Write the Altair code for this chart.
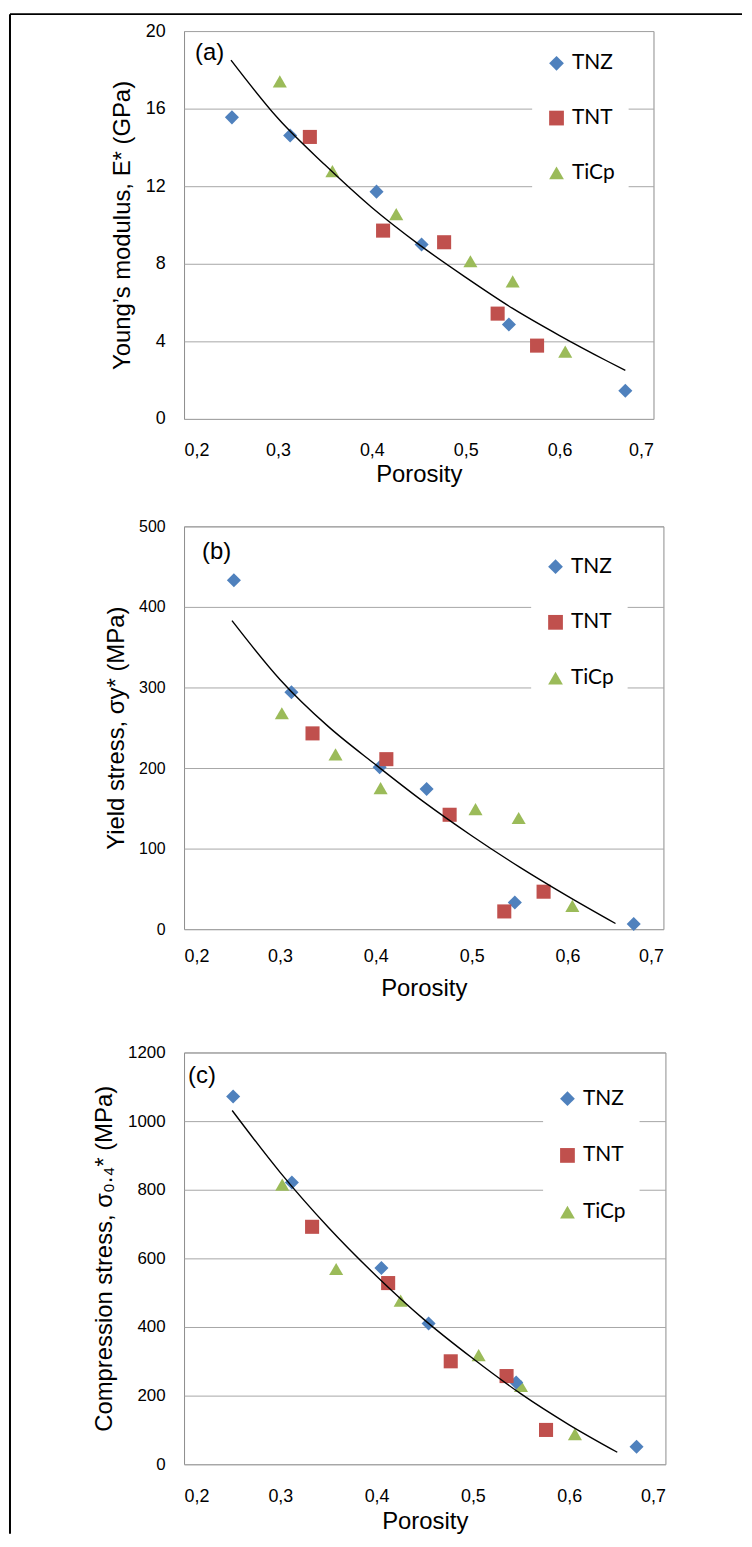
import altair as alt
import pandas as pd

series = ["TNZ", "TNT", "TiCp"]
colors = ["#4F81BD", "#C0504D", "#9BBB59"]
shapes = ["diamond", "square", "triangle-up"]
x_ticks = [0.2, 0.3, 0.4, 0.5, 0.6, 0.7]

# Panel (a) Young's modulus
a_tnz_x = [0.251, 0.313, 0.405, 0.453, 0.546, 0.670]
a_tnz_y = [15.55, 14.61, 11.72, 8.99, 4.87, 1.45]
a_tnt_x = [0.334, 0.412, 0.477, 0.534, 0.576]
a_tnt_y = [14.54, 9.71, 9.11, 5.43, 3.78]
a_ticp_x = [0.302, 0.358, 0.426, 0.505, 0.550, 0.606]
a_ticp_y = [17.4, 12.78, 10.56, 8.13, 7.09, 3.47]
a_fit_x = [0.25, 0.30, 0.35, 0.40, 0.45, 0.50, 0.55, 0.60, 0.65, 0.67]
a_fit_y = [18.5, 15.5, 13.1, 10.9, 9.0, 7.3, 5.7, 4.3, 3.0, 2.5]
a_y_ticks = [0, 4, 8, 12, 16, 20]

# Panel (b) Yield stress
b_tnz_x = [0.252, 0.312, 0.404, 0.453, 0.545, 0.669]
b_tnz_y = [433, 294, 201, 174, 33, 6.5]
b_tnt_x = [0.334, 0.411, 0.477, 0.534, 0.575]
b_tnt_y = [243, 211, 142, 22, 46.5]
b_ticp_x = [0.302, 0.358, 0.405, 0.504, 0.549, 0.605]
b_ticp_y = [268, 217, 175, 149, 138, 29]
b_fit_x = [0.25, 0.30, 0.35, 0.40, 0.45, 0.50, 0.55, 0.60, 0.65]
b_fit_y = [383, 310, 252, 204, 158, 116, 77, 41, 7]
b_y_ticks = [0, 100, 200, 300, 400, 500]

# Panel (c) Compression stress
c_tnz_x = [0.251, 0.312, 0.405, 0.454, 0.545, 0.670]
c_tnz_y = [1072, 821, 572, 410, 238, 51]
c_tnt_x = [0.333, 0.412, 0.477, 0.535, 0.576]
c_tnt_y = [692, 528, 300, 257, 100]
c_ticp_x = [0.302, 0.358, 0.425, 0.506, 0.550, 0.606]
c_ticp_y = [815, 569, 477, 318, 228, 88]
c_fit_x = [0.25, 0.30, 0.35, 0.40, 0.45, 0.50, 0.55, 0.60, 0.65]
c_fit_y = [1031, 850, 690, 548, 420, 308, 205, 115, 35]
c_y_ticks = [0, 200, 400, 600, 800, 1000, 1200]

FONT = "Liberation Sans"
LEG_FONT = "Lato"


def points_df(xs_list, ys_list):
    rows = []
    for name, xs, ys in zip(series, xs_list, ys_list):
        for x, y in zip(xs, ys):
            rows.append({"Porosity": x, "val": y, "Series": name})
    return pd.DataFrame(rows)


def panel(pts, fit_x, fit_y, y_ticks, ytitle, tag, width, height,
          legx, legy, rowpad, ylab_size, xlab_pad, xtitle_pad, title_x,
          tag_x, tag_y, border=False):
    xsc = alt.Scale(domain=[0.2, 0.7], nice=False, zero=False)
    ysc = alt.Scale(domain=[y_ticks[0], y_ticks[-1]], nice=False)
    xaxis = alt.Axis(values=x_ticks,
                     labelExpr="replace(format(datum.value, '.1f'), '.', ',')",
                     grid=False, ticks=False, domain=False,
                     labelFontSize=18, labelFont=FONT, labelColor="black",
                     labelPadding=xlab_pad, title="Porosity", titleFont=FONT,
                     titleFontSize=24, titleFontWeight="normal",
                     titleColor="black", titlePadding=xtitle_pad)
    yaxis = alt.Axis(values=y_ticks, format="d", grid=True, gridColor="#a6a6a6",
                     ticks=False, domain=False, labelFontSize=ylab_size,
                     labelFont=FONT, labelColor="black", labelPadding=19,
                     title=ytitle, titleFont=FONT, titleFontSize=24,
                     titleFontWeight="normal", titleColor="black",
                     titleX=title_x)
    legend = alt.Legend(orient="none", legendX=legx, legendY=legy, title=None,
                        fillColor="white", padding=14, rowPadding=rowpad,
                        labelFontSize=21, labelFont=LEG_FONT,
                        labelColor="black", symbolSize=220, labelOffset=5,
                        symbolStrokeWidth=0)
    color = alt.Color("Series:N", scale=alt.Scale(domain=series, range=colors),
                      legend=legend)
    shape = alt.Shape("Series:N", scale=alt.Scale(domain=series, range=shapes),
                      legend=legend)
    pts_layer = alt.Chart(pts).mark_point(filled=True, size=200, opacity=1).encode(
        x=alt.X("Porosity:Q", scale=xsc, axis=xaxis),
        y=alt.Y("val:Q", scale=ysc, axis=yaxis),
        color=color, shape=shape,
        order=alt.Order("Series:N", sort="descending"),
    )
    fit = pd.DataFrame({"Porosity": fit_x, "val": fit_y})
    fit_layer = alt.Chart(fit).mark_line(color="black", strokeWidth=1.4,
                                         interpolate="monotone").encode(
        x=alt.X("Porosity:Q", scale=xsc), y=alt.Y("val:Q", scale=ysc))
    tag_layer = alt.Chart(pd.DataFrame({"t": [tag]})).mark_text(
        align="left", baseline="top", fontSize=24, font=FONT, color="black"
    ).encode(text="t:N", x=alt.value(tag_x), y=alt.value(tag_y))
    layers = [pts_layer, fit_layer, tag_layer]
    if border:
        bdf = pd.DataFrame({"b": [1]})
        top_rule = alt.Chart(bdf).mark_rule(color="black", strokeWidth=2).encode(
            x=alt.value(-175), x2=alt.value(561), y=alt.value(-17))
        left_rule = alt.Chart(bdf).mark_rule(color="black", strokeWidth=2).encode(
            x=alt.value(-175), y=alt.value(-17), y2=alt.value(1511))
        layers += [top_rule, left_rule]
    return alt.layer(*layers).properties(width=width, height=height)


pa = panel(points_df([a_tnz_x, a_tnt_x, a_ticp_x], [a_tnz_y, a_tnt_y, a_ticp_y]),
           a_fit_x, a_fit_y, a_y_ticks, "Young’s modulus, E* (GPa)", "(a)",
           472, 390, 350, 8, 33, 18, 23, 3, -50, 11, 10, border=True)
pb = panel(points_df([b_tnz_x, b_tnt_x, b_ticp_x], [b_tnz_y, b_tnt_y, b_ticp_y]),
           b_fit_x, b_fit_y, b_y_ticks, "Yield stress, σy* (MPa)", "(b)",
           482, 405, 349, 16, 34, 16, 19, 11, -56, 18, 14)
pc = panel(points_df([c_tnz_x, c_tnt_x, c_ticp_x], [c_tnz_y, c_tnt_y, c_ticp_y]),
           c_fit_x, c_fit_y, c_y_ticks, "Compression stress, σ₀.₄* (MPa)", "(c)",
           484, 414, 361, 22, 35, 17, 23, 5, -68, 4, 12)

inner = alt.vconcat(pb, pc, spacing=124, bounds="flush").resolve_scale(
    color="independent", shape="independent", x="independent", y="independent")
chart = alt.vconcat(pa, inner, spacing=108, bounds="flush").resolve_scale(
    color="independent", shape="independent", x="independent", y="independent"
).properties(
    padding={"left": 0, "top": 0, "right": 0, "bottom": 0},
    background="white",
).configure_view(stroke="#8c8c8c", strokeWidth=1)

chart.save("out.html", embed_options={"renderer": "svg", "actions": False})
